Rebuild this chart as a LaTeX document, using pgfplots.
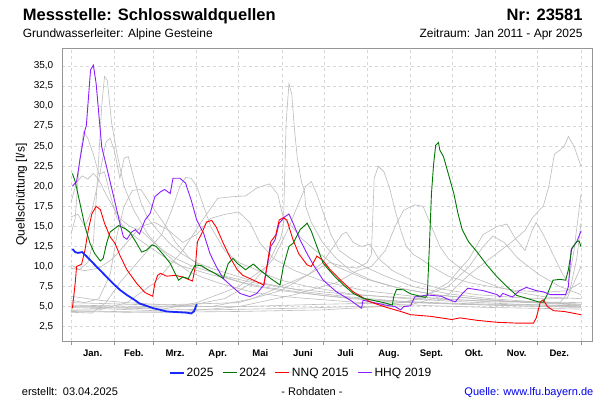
\documentclass[border=0pt]{standalone}
\usepackage{fontspec}
\setmainfont{Liberation Sans}
\usepackage{pgfplots}
\pgfplotsset{compat=1.18}
\definecolor{c25}{RGB}{25,40,255}
\definecolor{c24}{RGB}{0,120,0}
\definecolor{cnnq}{RGB}{255,0,0}
\definecolor{chhq}{RGB}{140,30,255}
\definecolor{cgray}{RGB}{188,188,188}
\definecolor{cgrid}{RGB}{215,215,215}
\definecolor{cframe}{RGB}{150,150,150}
\definecolor{clink}{RGB}{0,0,235}
\begin{document}
\begin{tikzpicture}
\path[use as bounding box, fill=white] (0pt,0pt) rectangle (600pt,400pt);
\begin{axis}[
  at={(62.5pt,59pt)}, anchor=south west,
  scale only axis, width=530.2pt, height=292.7pt,
  xmin=-6.08, xmax=373.4, ymin=0.72, ymax=37.2,
  xtick={0,31,59,90,120,151,181,212,243,273,304,334,365},
  xticklabels={,,,,,,,,,,,,},
  extra x ticks={15.5,45,74.5,105,135.5,166,196.5,227.5,258,288.5,319,349.5},
  extra x tick labels={Jan.,Feb.,Mrz.,Apr.,Mai,Juni,Juli,Aug.,Sept.,Okt.,Nov.,Dez.},
  extra x tick style={grid=none, major tick length=0pt,
     xticklabel style={anchor=base, yshift=-15pt, inner sep=0pt, font=\fontsize{9.5}{11}\selectfont\bfseries}},
  ytick={2.5,5,7.5,10,12.5,15,17.5,20,22.5,25,27.5,30,32.5,35},
  xtick pos=bottom, ytick pos=left,
  tick align=outside, major tick length=3.5pt,
  xtick style={cframe, line width=0.8pt},
  ytick style={draw=none},
  grid=major,
  major grid style={cgrid, dash pattern=on 3pt off 3pt, line width=0.6pt},
  axis line style={cframe, line width=0.8pt},
  /pgf/number format/assume math mode=true,
  yticklabel style={font=\fontsize{10}{12}\selectfont, inner sep=0pt, xshift=-5.5pt,
     /pgf/number format/fixed, /pgf/number format/fixed zerofill,
     /pgf/number format/precision=1, /pgf/number format/use comma},
  ylabel={Quellschüttung [l/s]},
  every axis y label/.style={at={(axis description cs:-0.0771,0.5)}, rotate=90, anchor=center,
     font=\fontsize{12}{14}\selectfont},
  legend style={at={(axis description cs:0.45,-0.108)}, anchor=center, draw=none, fill=none,
     font=\fontsize{12}{14}\selectfont, legend columns=4,
     /tikz/every even column/.append style={column sep=7pt}},
  legend image code/.code={\draw[#1] (0pt,0pt) -- (14pt,0pt);},
  reverse legend,
]
% historical years (grey)
\addplot[cgray, line width=0.6pt, forget plot] coordinates {(0,10.2)(6,9.6)(12,10.5)(16,13)(19,21)(22,30)(24,33.7)(26,33.2)(29,28)(33,24)(38,20)(45,17)(55,14)(65,12)(75,10.5)(85,9.3)(95,8.6)(105,8)(115,7.5)(130,6.8)(150,6.3)(170,6)(200,5.6)(230,5.3)(260,5.1)(300,4.9)(330,4.8)(365,4.7)};
\addplot[cgray, line width=0.6pt, forget plot] coordinates {(0,14)(3,16)(6,23)(9,26.8)(12,26)(16,24)(20,21.5)(24,21.8)(28,19)(33,16)(40,14.5)(50,13.2)(60,12)(70,10.8)(80,10)(90,9.5)(100,9)(110,8.6)(120,8.1)(140,7.4)(160,6.9)(180,6.4)(200,6)(230,5.6)(260,5.4)(300,5.2)(340,5)(365,4.9)};
\addplot[cgray, line width=0.6pt, forget plot] coordinates {(0,16.2)(5,16.5)(10,15)(15,17)(20,21)(25,25.5)(28,26)(31,24.5)(35,21)(38,23.5)(41,23.7)(45,21)(50,18)(55,16)(62,14.5)(70,13)(80,11.5)(90,10.5)(100,9.8)(115,9)(130,8.2)(150,7.5)(170,6.8)(200,6.2)(240,5.6)(280,5.3)(320,5.1)(365,5.0)};
\addplot[cgray, line width=0.6pt, forget plot] coordinates {(0,18)(4,20.5)(8,21.3)(12,20.9)(16,21.6)(20,20.8)(25,19)(30,17.5)(35,16)(42,15)(50,14.5)(58,13.2)(66,12)(75,11)(85,10.2)(95,9.6)(110,8.8)(130,8)(160,7.2)(200,6.5)(250,6)(300,5.7)(365,5.5)};
\addplot[cgray, line width=0.6pt, forget plot] coordinates {(0,5.8)(10,5.5)(20,6)(28,9)(33,14)(38,17.5)(44,19.5)(50,19.6)(56,18)(62,16.5)(68,15)(75,13)(85,11)(95,9.8)(110,8.7)(130,7.6)(150,7)(180,6.4)(220,5.8)(260,5.5)(300,5.3)(365,5.1)};
\addplot[cgray, line width=0.6pt, forget plot] coordinates {(0,4.3)(15,4.2)(25,5.5)(35,8)(45,10)(55,12)(65,14)(72,17)(78,20)(82,21.1)(86,21)(90,20)(95,17.5)(100,15)(105,13.5)(110,12)(120,10.5)(130,9.8)(140,9)(150,8.3)(170,7.5)(200,6.6)(240,6)(280,5.6)(320,5.3)(365,5.1)};
\addplot[cgray, line width=0.6pt, forget plot] coordinates {(0,4.6)(20,4.6)(40,5.5)(60,8)(80,12)(95,16)(105,18.5)(115,18.7)(125,18.8)(133,19.8)(142,20.3)(148,19)(152,16)(158,15)(165,13.5)(175,12)(190,10)(210,8.5)(230,7.5)(260,6.5)(300,5.8)(340,5.4)(365,5.2)};
\addplot[cgray, line width=0.6pt, forget plot] coordinates {(0,4.9)(30,4.7)(60,4.5)(90,5.5)(120,7.5)(140,10)(150,13.5)(152,15)(154,28)(156,32.8)(158,31.5)(160,27)(162,23.5)(165,20.5)(167,19.5)(168,17.5)(172,15.5)(180,13)(190,11)(200,9.5)(215,8.3)(235,7.3)(260,6.5)(290,6)(320,5.6)(365,5.3)};
\addplot[cgray, line width=0.6pt, forget plot] coordinates {(0,5.1)(40,4.9)(80,5)(110,6)(130,8)(145,11)(155,14.5)(162,17.5)(168,20)(172,20.6)(176,19)(180,17)(186,14)(192,12)(200,11)(210,10)(225,8.8)(245,7.5)(270,6.6)(300,6)(340,5.5)(365,5.3)};
\addplot[cgray, line width=0.6pt, forget plot] coordinates {(0,6.3)(20,5.8)(40,5.5)(70,5.2)(100,5)(130,6)(150,7.5)(170,9)(185,10.5)(195,10)(205,9.8)(212,10.5)(215,11.5)(217,21)(220,22.5)(224,21.8)(228,19.8)(232,17)(236,14.5)(240,12.5)(245,11.5)(250,11)(258,10)(270,8.8)(285,8)(300,7.5)(320,7)(340,6.8)(355,7)(365,8)};
\addplot[cgray, line width=0.6pt, forget plot] coordinates {(0,4.4)(40,4.3)(80,4.4)(120,5)(160,6.5)(190,8)(205,9.5)(215,10)(225,12)(232,15)(238,17)(246,17.7)(252,17.5)(258,15)(264,12.5)(270,11)(280,9.6)(290,8.5)(305,7.5)(320,6.8)(340,6.2)(365,6)};
\addplot[cgray, line width=0.6pt, forget plot] coordinates {(0,5)(40,4.8)(100,4.6)(160,4.8)(200,5)(240,5.1)(270,6.5)(285,9)(300,11)(315,13)(325,14.5)(330,16)(335,17)(338,17.5)(342,20)(346,24)(350,24.5)(353,25)(356,26.2)(360,25)(363,23.5)(365,22.5)};
\addplot[cgray, line width=0.6pt, forget plot] coordinates {(0,4.5)(60,4.3)(120,4.4)(180,4.6)(220,5)(250,6)(270,8)(285,11)(295,14)(305,15)(312,15.3)(318,13.5)(325,12)(330,14.5)(333,15.5)(338,14)(345,11.5)(352,9)(356,8)(360,12)(365,19)};
\addplot[cgray, line width=0.6pt, forget plot] coordinates {(0,5.2)(60,5)(120,5)(180,5.3)(240,5.5)(270,7.5)(285,10)(295,12.5)(302,13.8)(310,13)(320,11)(335,9)(350,7.5)(365,6.5)};
\addplot[cgray, line width=0.6pt, forget plot] coordinates {(0,9.8)(10,9.5)(20,9.8)(30,11)(40,13)(50,15)(60,15.5)(70,14.5)(80,13)(90,14)(100,16)(110,16.5)(120,16.8)(128,15.5)(135,13)(145,11)(160,9.5)(180,8.2)(210,7)(250,6.2)(300,5.6)(350,5.5)(357,7)(362,11)(365,15.4)};
\addplot[cgray, line width=0.6pt, forget plot] coordinates {(0,5.5)(60,5.2)(120,5.5)(150,7)(170,9)(180,10.5)(188,12.5)(194,14)(197,14.3)(202,13)(208,12.5)(214,12.8)(220,11)(230,9.5)(245,8.2)(265,7.2)(290,6.5)(330,6)(355,6)(360,8)(365,10)};
% HHQ 2019
\addplot[chhq, line width=0.9pt] coordinates {(1,20.0)(4,20.6)(6.4,23.3)(10,27.0)(11,27.6)(14,34.5)(16,35.1)(18,32.8)(22,24.9)(25.5,22.4)(30,19.1)(35,15.4)(37.5,13.7)(40,13.4)(43.4,14.3)(46,14.6)(49,14.05)(53,15.8)(56.6,16.6)(60,18.7)(64,19.3)(67,19.6)(71,19.1)(73,21.0)(78,21.0)(82,20.4)(86,18.3)(90,15.8)(95,14.1)(99.5,11.6)(104,10.0)(109,8.5)(114,7.7)(121,6.65)(128,6.25)(133,6.65)(138,7.7)(139,8.7)(143,12.5)(146,13.3)(149,15.4)(153,16.2)(156,16.55)(159,15.4)(164,13.3)(169,11.6)(173.5,10.2)(180.5,8.3)(190,6.85)(200,5.8)(208,4.8)(209,5.8)(217,5.5)(225,5.2)(232,5.0)(236,4.6)(238,5.0)(243,5.1)(246,6.2)(255,6.45)(265,6.3)(270,5.9)(275,5.6)(280,6.6)(284,7.3)(295,7.0)(305,6.5)(307,6.2)(309,6.65)(316,6.2)(321,7.0)(326,7.4)(333,7.0)(338,6.85)(343,6.5)(354,6.5)(356,7.5)(358,12.1)(362,13.1)(365,14.4)};
\addlegendentry{HHQ 2019}
% NNQ 2015
\addplot[cnnq, line width=0.9pt] coordinates {(1,4.8)(3,7.9)(4,10.0)(7.6,10.3)(10,12.05)(12.4,14.6)(15,16.6)(18,17.5)(21,17.1)(24,15.4)(28,13.7)(31.5,12.9)(35,11.4)(40,9.6)(47,7.9)(53,6.75)(58.5,6.3)(60,7.9)(62,8.9)(64,9.15)(68.5,8.8)(74.5,8.9)(80,8.7)(84,8.4)(87,8.2)(89,10.0)(90.5,13.1)(93.5,14.1)(97,15.55)(100.7,15.75)(104,14.9)(109,12.9)(114,11.1)(119,9.6)(123,8.9)(130.6,8.3)(138,7.7)(139,8.7)(143,13.1)(146.5,13.9)(149,15.8)(152,16.1)(154.5,15.8)(159,13.3)(163,11.6)(169,10.2)(172,10.0)(176,11.3)(180,10.8)(185.5,9.6)(193,8.3)(202,6.85)(214,5.6)(226,4.9)(236,4.4)(243,4.0)(257,3.8)(272.5,3.4)(278.5,3.6)(290.5,3.3)(305,3.05)(319,2.95)(331,2.95)(333,3.6)(336,5.6)(338,5.85)(341,5.0)(345.4,4.5)(353,4.4)(365,4.0)};
\addlegendentry{NNQ 2015}
% 2024
\addplot[c24, line width=0.9pt] coordinates {(1,21.6)(3,20.6)(6.4,17.9)(10,15.0)(13.6,12.9)(17,11.6)(21,10.7)(23,11.0)(25.5,12.9)(28,14.3)(34,15.1)(39,14.7)(42,14.3)(47,12.9)(50.6,11.8)(54,12.05)(58,12.7)(61,12.5)(66,11.5)(71,10.4)(74.5,9.15)(77,8.3)(80,8.7)(84,8.5)(87,9.6)(89,10.2)(93.5,10.1)(98,9.6)(103,9.15)(109,8.5)(112.6,10.4)(116,11.0)(119,10.4)(125,9.6)(128,10.0)(130.5,10.3)(135,9.6)(143,8.5)(149.6,7.7)(152,10.0)(156,12.5)(159,12.9)(164,14.6)(169,15.4)(172,14.4)(176,12.5)(180.5,10.4)(188,8.9)(195,7.7)(202,6.65)(209,6.05)(217,5.75)(224,5.5)(230,5.2)(231,6.25)(233,7.15)(238,7.1)(243,6.6)(250,6.3)(253.5,6.15)(255,6.4)(256.6,12.9)(258,19.1)(259.5,22.7)(261,25.1)(263,25.45)(264,24.5)(266.6,23.7)(270,21.6)(274,19.1)(277,16.6)(280,14.6)(284.5,13.1)(290.5,11.85)(297.6,10.2)(305,8.7)(312,7.5)(319,6.4)(326,6.05)(334.5,5.6)(338,5.55)(340.6,6.4)(345,8.3)(350,8.4)(354,8.3)(356,9.6)(358.5,12.3)(362,13.1)(363.6,13.2)(365,12.5)};
\addlegendentry{2024}
% 2025
\addplot[c25, line width=1.8pt] coordinates {(1,12.2)(3,11.8)(5,11.7)(8,11.8)(11,11.3)(16,10.4)(23,9.15)(30,7.9)(35,7.1)(40,6.45)(45,5.9)(49,5.4)(54,5.1)(59,4.8)(64,4.6)(68.5,4.4)(73,4.35)(78,4.3)(83,4.25)(86,4.15)(88,4.4)(90,5.3)};
\addlegendentry{2025}
\end{axis}
\node[anchor=base west, inner sep=0pt, font=\fontsize{16.5}{18}\selectfont\bfseries] at (22.7pt,379.3pt) {Messstelle: Schlosswaldquellen};
\node[anchor=base east, inner sep=0pt, font=\fontsize{16.5}{18}\selectfont\bfseries] at (582.7pt,379.3pt) {Nr: 23581};
\node[anchor=base west, inner sep=0pt, font=\fontsize{12}{14}\selectfont] at (22.7pt,362.7pt) {Grundwasserleiter: Alpine Gesteine};
\node[anchor=base east, inner sep=0pt, font=\fontsize{12}{14}\selectfont] at (582.7pt,362.7pt) {Zeitraum: Jan 2011 - Apr 2025};
\node[anchor=base west, inner sep=0pt, font=\fontsize{11}{13}\selectfont] at (21.7pt,5pt) {erstellt:};
\node[anchor=base west, inner sep=0pt, font=\fontsize{11}{13}\selectfont] at (62.7pt,5pt) {03.04.2025};
\node[anchor=base, inner sep=0pt, font=\fontsize{11}{13}\selectfont] at (312pt,5pt) {- Rohdaten -};
\node[anchor=base east, inner sep=0pt, text=clink, font=\fontsize{11}{13}\selectfont] at (593.5pt,5pt) {Quelle: www.lfu.bayern.de};
\end{tikzpicture}
\end{document}
